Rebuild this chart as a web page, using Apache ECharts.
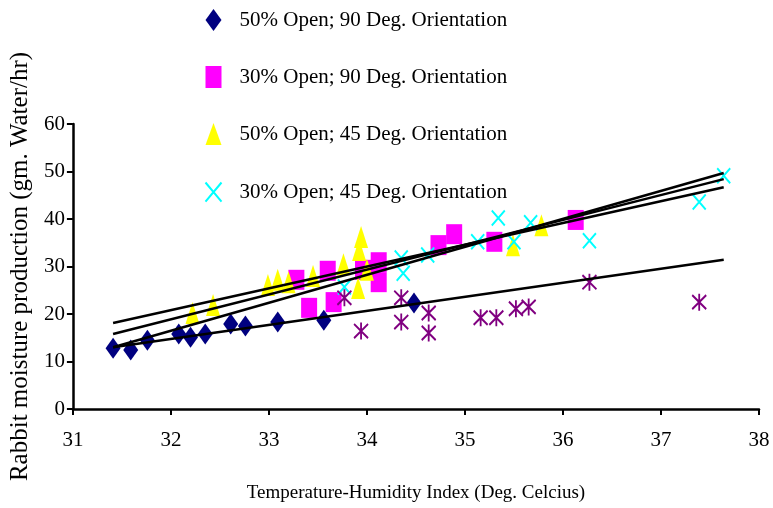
<!DOCTYPE html>
<html>
<head>
<meta charset="utf-8">
<script src="https://cdn.jsdelivr.net/npm/echarts@6/dist/echarts.min.js"></script>
<style>
  html, body { margin: 0; padding: 0; background: #fff; }
  #main { width: 773px; height: 508px; }
</style>
</head>
<body>
<div id="main"></div>
<script>
var myChart = echarts.init(document.getElementById('main'));

var names = [
  '50% Open; 90 Deg. Orientation',
  '30% Open; 90 Deg. Orientation',
  '50% Open; 45 Deg. Orientation',
  '30% Open; 45 Deg. Orientation'
];

// 50% open, 90 deg
var open50deg90 = [
  [31.41, 12.8], [31.59, 12.4], [31.76, 14.5], [32.08, 15.8], [32.20, 15.1],
  [32.35, 15.8], [32.61, 17.9], [32.76, 17.5], [33.09, 18.3], [33.56, 18.7],
  [34.48, 22.3]
];
// 30% open, 90 deg
var open30deg90 = [
  [33.28, 27.2], [33.41, 21.3], [33.60, 29.1], [33.66, 22.5], [33.96, 29.3],
  [34.12, 30.9], [34.12, 26.7], [34.73, 34.5], [34.89, 36.8], [35.30, 35.2],
  [36.13, 39.8]
];
// 50% open, 45 deg
var open50deg45 = [
  [32.22, 20.2], [32.43, 21.9], [32.99, 26.1], [33.09, 27.2], [33.20, 26.7],
  [33.45, 28.0], [33.76, 30.5], [33.91, 25.5], [33.94, 36.2], [33.92, 33.5],
  [34.00, 29.3], [35.49, 34.5], [35.78, 38.7]
];
// 30% open, 45 deg
var open30deg45 = [
  [33.77, 25.7], [34.35, 31.8], [34.37, 28.6], [34.62, 32.4], [35.13, 35.2],
  [35.34, 40.2], [35.50, 35.2], [35.67, 39.2], [36.27, 35.4], [37.39, 43.6],
  [37.64, 49.1]
];
// unlabelled asterisk series
var asterisks = [
  [33.77, 23.4], [33.94, 16.4], [34.35, 23.4], [34.35, 18.3], [34.63, 20.2],
  [34.63, 16.0], [35.16, 19.2], [35.32, 19.2], [35.52, 21.1], [35.65, 21.5],
  [36.27, 26.7], [37.39, 22.5]
];

// trend line end points
var trendLines = [
  [[31.41, 18.1], [37.64, 46.7]],
  [[31.41, 15.8], [37.64, 48.4]],
  [[31.41, 13.0], [37.64, 49.7]],
  [[31.41, 13.0], [37.64, 31.4]]
];

var serif = '"Liberation Serif", "DejaVu Serif", serif';
var crossPath = 'path://M0,0L10,12M10,0L0,12';
var starPath = 'path://M5,0L5,12M0,1L10,11M10,1L0,11';

var series = [
  {
    name: names[0], type: 'scatter', data: open50deg90,
    symbol: 'diamond', symbolSize: [15, 21],
    itemStyle: { color: '#000080', opacity: 1 }, z: 3
  },
  {
    name: names[1], type: 'scatter', data: open30deg90,
    symbol: 'rect', symbolSize: [16, 20],
    itemStyle: { color: '#ff00ff', opacity: 1 }, z: 2
  },
  {
    name: names[2], type: 'scatter', data: open50deg45,
    symbol: 'triangle', symbolSize: [14, 22],
    itemStyle: { color: '#ffff00', opacity: 1 }, z: 2
  },
  {
    name: names[3], type: 'scatter', data: open30deg45,
    symbol: crossPath, symbolSize: [13, 15],
    itemStyle: { color: 'none', borderColor: '#00ffff', borderWidth: 2, opacity: 1 }, z: 3
  },
  {
    name: 'other', type: 'scatter', data: asterisks,
    symbol: starPath, symbolSize: [14, 17],
    itemStyle: { color: 'none', borderColor: '#800080', borderWidth: 2, opacity: 1 }, z: 3
  }
];

trendLines.forEach(function (d, i) {
  series.push({
    name: 'trend' + i, type: 'line', data: d,
    symbol: 'none', silent: true, z: 5,
    lineStyle: { color: '#000', width: 2.5 }
  });
});

var option = {
  animation: false,
  grid: { left: 72, right: 14, top: 124, bottom: 99 },
  legend: {
    data: names.map(function (n, i) {
      return i === 3
        ? { name: n, itemStyle: { color: 'none', borderColor: '#00ffff', borderWidth: 2, opacity: 1 } }
        : { name: n, itemStyle: { opacity: 1 } };
    }),
    orient: 'vertical',
    left: 198,
    top: 4,
    itemWidth: 16,
    itemHeight: 22,
    itemGap: 35,
    textStyle: {
      fontFamily: serif, fontSize: 21, color: '#000',
      padding: [0, 0, 0, 13]
    }
  },
  xAxis: {
    type: 'value', min: 31, max: 38, interval: 1,
    name: 'Temperature-Humidity Index (Deg. Celcius)',
    nameLocation: 'middle', nameGap: 75,
    nameTextStyle: { fontFamily: serif, fontSize: 19, color: '#000' },
    axisLine: { lineStyle: { color: '#000', width: 2.5 } },
    axisTick: { length: 6, lineStyle: { width: 2 } },
    axisLabel: { margin: 21, fontFamily: serif, fontSize: 21, color: '#000' },
    splitLine: { show: false }
  },
  yAxis: {
    type: 'value', min: 0, max: 60, interval: 10,
    name: 'Rabbit moisture production (gm. Water/hr)',
    nameLocation: 'middle', nameGap: 36,
    nameTextStyle: { fontFamily: serif, fontSize: 25, color: '#000' },
    axisLine: { show: true, lineStyle: { color: '#000', width: 2.5 } },
    axisTick: { show: true, length: 6, lineStyle: { width: 2 } },
    axisLabel: { margin: 8, fontFamily: serif, fontSize: 21, color: '#000' },
    splitLine: { show: false }
  },
  series: series
};

myChart.setOption(option);
</script>
</body>
</html>
